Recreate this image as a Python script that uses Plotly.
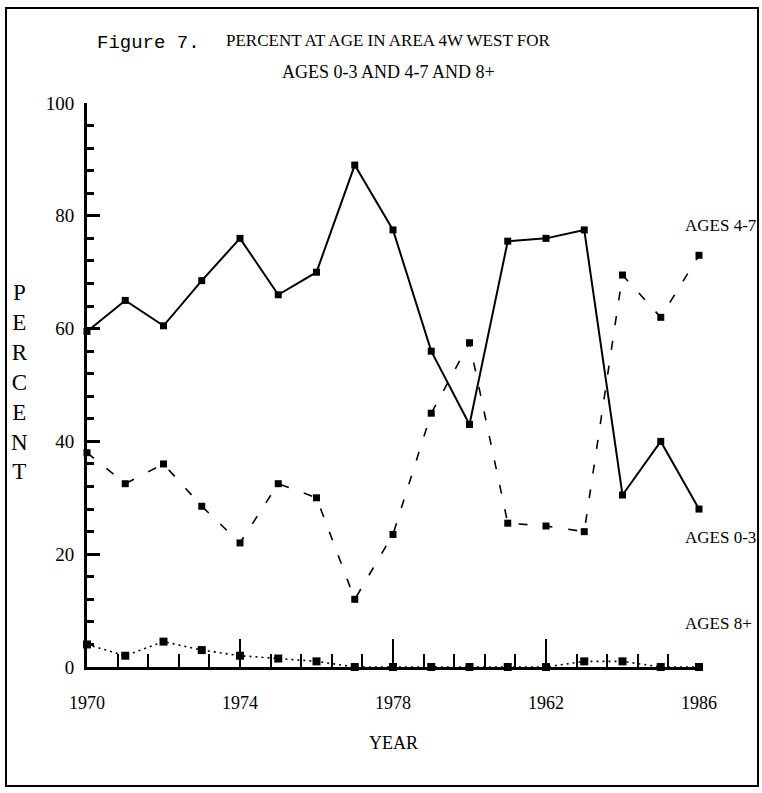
import plotly.graph_objects as go

years = list(range(1970, 1987))
ages_0_3 = [59.5, 65, 60.5, 68.5, 76, 66, 70, 89, 77.5, 56, 43, 75.5, 76, 77.5, 30.5, 40, 28]
ages_4_7 = [38, 32.5, 36, 28.5, 22, 32.5, 30, 12, 23.5, 45, 57.5, 25.5, 25, 24, 69.5, 62, 73]
ages_8p = [4, 2, 4.5, 3, 2, 1.5, 1, 0, 0, 0, 0, 0, 0, 1, 1, 0, 0]

x_tickvals = [1970, 1974, 1978, 1982, 1986]
x_ticktext = ["1970", "1974", "1978", "1962", "1986"]
y_tickvals = [0, 20, 40, 60, 80, 100]
y_ticktext = ["0", "20", "40", "60", "80", "100"]

series_labels = [("AGES 4-7", 78.2), ("AGES 0-3", 22.9), ("AGES 8+", 7.8)]

NARROW = "Liberation Serif, serif"
MONO = "Liberation Mono, Courier New, monospace"

fig = go.Figure()
fig.add_trace(go.Scatter(x=years, y=ages_0_3, mode="lines+markers", name="AGES 0-3",
                         line=dict(color="black", width=2),
                         marker=dict(symbol="square", size=7, color="black"),
                         cliponaxis=False))
fig.add_trace(go.Scatter(x=years, y=ages_4_7, mode="lines+markers", name="AGES 4-7",
                         line=dict(color="black", width=1.6, dash="9px,16px"),
                         marker=dict(symbol="square", size=7, color="black"),
                         cliponaxis=False))
fig.add_trace(go.Scatter(x=years, y=ages_8p, mode="lines+markers", name="AGES 8+",
                         line=dict(color="black", width=1.6, dash="2px,4px"),
                         marker=dict(symbol="square", size=8, color="black"),
                         cliponaxis=False))

L, R, T, B = 87, 63, 103, 126
W, H = 762, 793
pw, ph = W - L - R, H - T - B

def px_x(px):
    return (px - L) / pw

def px_y(py):
    return (H - B - py) / ph

annotations = [
    dict(text="Figure 7.", xref="paper", yref="paper", x=px_x(95), y=px_y(43),
         xanchor="left", yanchor="middle", showarrow=False,
         font=dict(family=MONO, size=19, color="black")),
    dict(text="PERCENT AT AGE IN AREA 4W WEST FOR", xref="paper", yref="paper",
         x=px_x(388), y=px_y(40), xanchor="center", yanchor="middle", showarrow=False,
         font=dict(family=NARROW, size=17, color="black")),
    dict(text="AGES 0-3 AND 4-7 AND 8+", xref="paper", yref="paper",
         x=px_x(388), y=px_y(72), xanchor="center", yanchor="middle", showarrow=False,
         font=dict(family=NARROW, size=18, color="black")),
    dict(text="<br>".join("PERCENT"), xref="paper", yref="paper",
         x=px_x(19), y=px_y(382), xanchor="center", yanchor="middle", showarrow=False,
         font=dict(family=NARROW, size=23, color="black")),
    dict(text="YEAR", xref="paper", yref="paper",
         x=0.5, y=px_y(743), xanchor="center", yanchor="middle", showarrow=False,
         font=dict(family=NARROW, size=18, color="black")),
]
for txt, yv in series_labels:
    annotations.append(dict(text=txt, xref="paper", yref="y", x=px_x(683), y=yv,
                            xanchor="left", yanchor="middle", showarrow=False,
                            font=dict(family=NARROW, size=17, color="black")))

fig.update_layout(
    width=W, height=H,
    margin=dict(l=L, r=R, t=T, b=B),
    paper_bgcolor="white", plot_bgcolor="white",
    showlegend=False,
    annotations=annotations,
    shapes=[dict(type="rect", xref="paper", yref="paper",
                 x0=px_x(6), x1=px_x(758), y0=px_y(786), y1=px_y(8),
                 line=dict(color="black", width=2), fillcolor="rgba(0,0,0,0)")],
    xaxis=dict(range=[1970, 1986], tickmode="array", tickvals=x_tickvals, ticktext=x_ticktext,
               ticks="inside", ticklen=28, tickwidth=2, tickcolor="black",
               showline=True, linewidth=3, linecolor="black", showgrid=False, zeroline=False,
               ticklabelstandoff=17,
               tickfont=dict(family=NARROW, size=18, color="black"),
               minor=dict(tick0=1970, dtick=0.8, ticks="inside", ticklen=13, tickwidth=1.5,
                          tickcolor="black", showgrid=False)),
    yaxis=dict(range=[0, 100], tickmode="array", tickvals=y_tickvals, ticktext=y_ticktext,
               ticks="inside", ticklen=13, tickwidth=3, tickcolor="black",
               showline=True, linewidth=3, linecolor="black", showgrid=False, zeroline=False,
               ticklabelstandoff=6,
               tickfont=dict(family=NARROW, size=19, color="black"),
               minor=dict(tick0=0, dtick=4, ticks="inside", ticklen=7, tickwidth=2.5,
                          tickcolor="black", showgrid=False)),
)

fig.write_html("out.html")
